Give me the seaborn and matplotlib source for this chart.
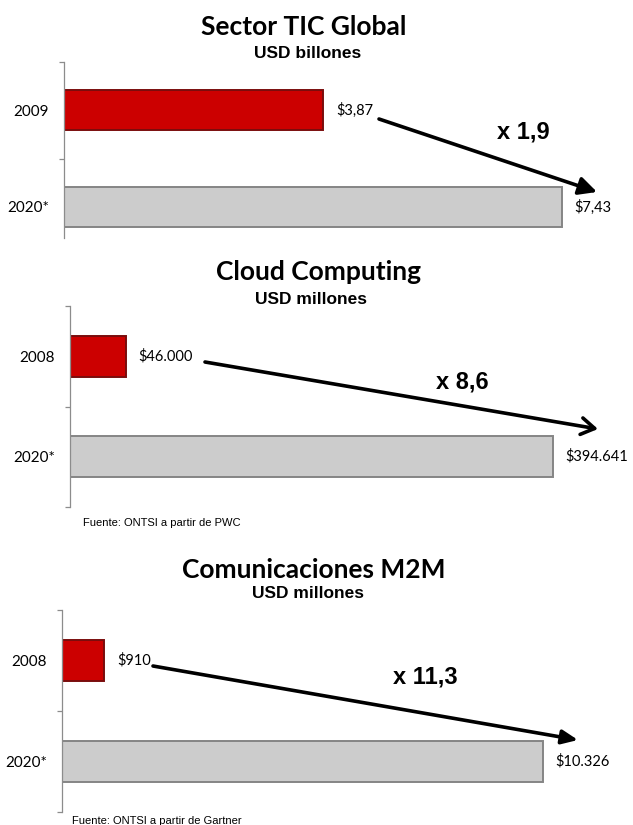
import pandas as pd
import seaborn as sns
import matplotlib.pyplot as plt
from matplotlib.patches import FancyArrowPatch

# Data
tic_years = ['2009', '2020*']
tic_values = [3.87, 7.43]
tic_text = ['$3,87', '$7,43']

cloud_years = ['2008', '2020*']
cloud_values = [46000, 394641]
cloud_text = ['$46.000', '$394.641']

m2m_years = ['2008', '2020*']
m2m_values = [910, 10326]
m2m_text = ['$910', '$10.326']

titles = ['Sector TIC Global', 'Cloud Computing', 'Comunicaciones M2M']
units = ['USD billones', 'USD millones', 'USD millones']
growth = ['x 1,9', 'x 8,6', 'x 11,3']
sources = [None, 'Fuente: ONTSI a partir de PWC', 'Fuente: ONTSI a partir de Gartner']

bar_colors = ['#cc0000', '#cccccc']
edge_colors = ['#7a0d0d', '#858585']

W, H = 633, 825
sns.set_style('white')
plt.rcParams['font.family'] = ['Lato', 'DejaVu Sans']
plt.rcParams['text.color'] = 'black'

fig = plt.figure(figsize=(W / 100, H / 100), dpi=100)


def fx(x):
    return x / W


def fy(y):
    return 1 - y / H


# layout of each panel in pixels (left, top, height, bar length of max, spine bottom)
layout = [
    dict(left=64, top=61.5, height=194, barlen=498, spine_bottom=238,
         title=(304, 27), unit=(308, 53), arrow=((379, 119), (597, 192)),
         head='-|>,head_length=0.9,head_width=0.45', grow=(523, 132), src=None),
    dict(left=70, top=306, height=201, barlen=483, spine_bottom=507,
         title=(318, 272), unit=(311, 300), arrow=((205, 362), (598, 429)),
         head='->,head_length=0.8,head_width=0.5', grow=(462, 382), src=(83, 523)),
    dict(left=62, top=610, height=202, barlen=481, spine_bottom=812,
         title=(314, 570), unit=(308, 593), arrow=((153, 666), (578, 740)),
         head='-|>,head_length=0.8,head_width=0.35', grow=(425, 677), src=(72, 821)),
]

panels = [
    (tic_years, tic_values, tic_text),
    (cloud_years, cloud_values, cloud_text),
    (m2m_years, m2m_values, m2m_text),
]

extra = 1.1
for k, ((years, values, texts), lay) in enumerate(zip(panels, layout)):
    width_px = lay['barlen'] * extra
    ax = fig.add_axes([fx(lay['left']), fy(lay['top'] + lay['height']),
                       width_px / W, lay['height'] / H])
    df = pd.DataFrame({'year': years, 'value': values})
    sns.barplot(data=df, x='value', y='year', hue='year', palette=bar_colors,
                saturation=1, legend=False, width=0.41, orient='h', ax=ax)
    for patch, ec in zip(ax.patches, edge_colors):
        patch.set_edgecolor(ec)
        patch.set_linewidth(1.4)

    ax.set_xlim(0, max(values) * extra)
    ax.set_ylim(1.5, -0.5)
    ax.set_xticks([])
    ax.set_xlabel('')
    ax.set_ylabel('')
    for s in ['top', 'right', 'bottom']:
        ax.spines[s].set_visible(False)
    unit_px = lay['height'] / 2
    bottom = -0.5 + (lay['spine_bottom'] - lay['top']) / unit_px
    ax.spines['left'].set_bounds(-0.5, bottom)
    ax.spines['left'].set_color('#8c8c8c')
    ax.spines['left'].set_linewidth(0.9)
    ax.set_yticks([b for b in [-0.5, 0.5, 1.5] if b <= bottom + 0.01], minor=True)
    ax.tick_params(axis='y', which='minor', direction='out', length=3.5,
                   color='#8c8c8c', width=0.9, left=True)
    ax.tick_params(axis='y', which='major', length=0, pad=11, labelsize=11,
                   labelcolor='black')

    for i, (v, t) in enumerate(zip(values, texts)):
        ax.annotate(t, (v, i), xytext=(9, 0), textcoords='offset points',
                    ha='left', va='center', fontsize=10.5, color='black')

    fig.text(fx(lay['title'][0]), fy(lay['title'][1]), titles[k], ha='center',
             va='center', fontsize=19, fontweight='bold')
    fig.text(fx(lay['unit'][0]), fy(lay['unit'][1]), units[k], ha='center',
             va='center', fontsize=12.5, fontweight='bold',
             family=['Liberation Sans', 'DejaVu Sans'])
    fig.text(fx(lay['grow'][0]), fy(lay['grow'][1]), growth[k], ha='center',
             va='center', fontsize=17, fontweight='bold',
             family=['Liberation Sans', 'DejaVu Sans'])
    if lay['src'] is not None:
        fig.text(fx(lay['src'][0]), fy(lay['src'][1]), sources[k], ha='left',
                 va='center', fontsize=8, family=['Liberation Sans', 'DejaVu Sans'])

    (x0, y0), (x1, y1) = lay['arrow']
    arr = FancyArrowPatch((fx(x0), fy(y0)), (fx(x1), fy(y1)), transform=fig.transFigure,
                          arrowstyle=lay['head'], mutation_scale=12, lw=2.6,
                          color='black', shrinkA=0, shrinkB=0)
    fig.add_artist(arr)

fig.savefig('out.png', dpi=100)
